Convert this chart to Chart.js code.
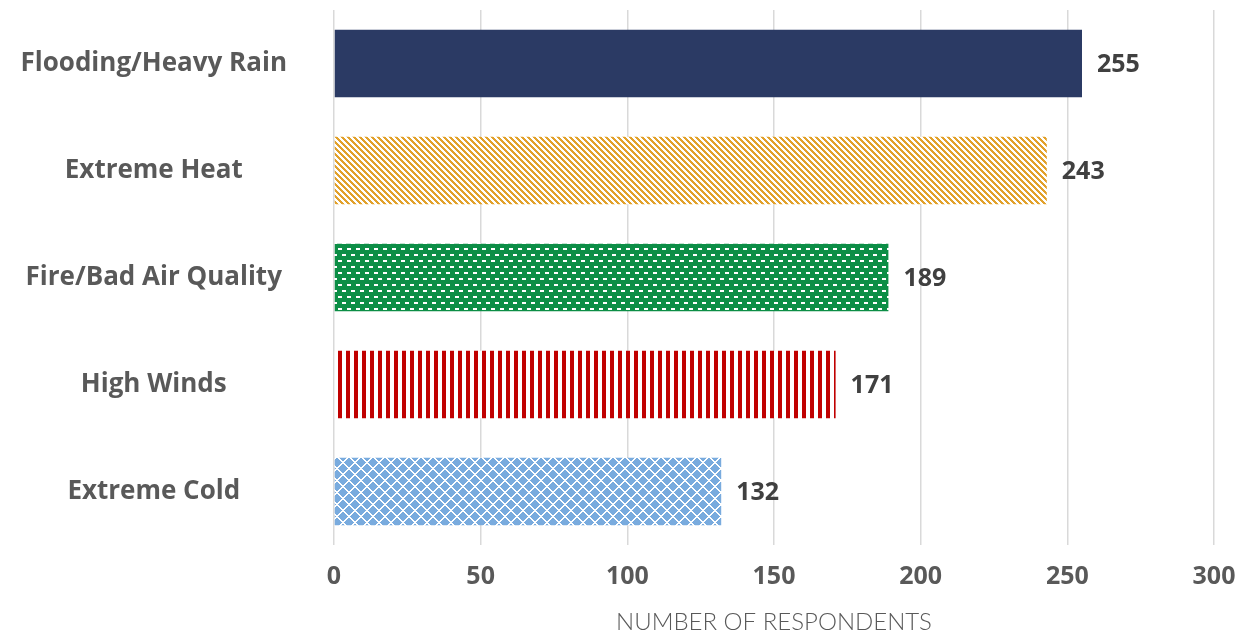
<!DOCTYPE html>
<html>
<head>
<meta charset="utf-8">
<title>Weather hazards</title>
<script src="https://cdn.jsdelivr.net/npm/chart.js@4.4.1/dist/chart.umd.min.js"></script>
<style>
  html, body { margin: 0; padding: 0; background: #fff; }
  #wrap { width: 1246px; height: 633px; position: relative; }
</style>
</head>
<body>
<div id="wrap"><canvas id="chart"></canvas></div>
<script>
var categories = ['Flooding/Heavy Rain', 'Extreme Heat', 'Fire/Bad Air Quality', 'High Winds', 'Extreme Cold'];
var respondents = [255, 243, 189, 171, 132];
var xTicks = [0, 50, 100, 150, 200, 250, 300];
var axisTitle = 'NUMBER OF RESPONDENTS';

(function() {
  'use strict';

  var GREY = '#595959';
  var BOLD = "'Open Sans', Lato, sans-serif";
  var LIGHT = "Lato, 'Open Sans', sans-serif";

  /** Build a small tile canvas and turn it into a repeating pattern. */
  function tile(w, h, draw) {
    var c = document.createElement('canvas');
    c.width = w; c.height = h;
    var ctx = c.getContext('2d');
    ctx.fillStyle = '#fff';
    ctx.fillRect(0, 0, w, h);
    draw(ctx);
    return ctx.createPattern(c, 'repeat');
  }

  function mod(a, n) { return ((a % n) + n) % n; }

  // wide downward diagonal, orange on white
  var heat = tile(6, 6, function(ctx) {
    ctx.fillStyle = '#E2A12B';
    for (var y = 0; y < 6; y++) {
      for (var x = 0; x < 6; x++) {
        if (mod(x - y, 6) < 3) ctx.fillRect(x, y, 1, 1);
      }
    }
  });

  // green with white brick dashes
  var fire = tile(9, 12, function(ctx) {
    ctx.fillStyle = '#0C8E46';
    ctx.fillRect(0, 0, 9, 12);
    ctx.fillStyle = '#fff';
    ctx.fillRect(0, 2, 4, 2);
    ctx.fillRect(5, 8, 4, 2);
  });

  // vertical red stripes
  var winds = tile(8, 8, function(ctx) {
    ctx.fillStyle = '#C00000';
    ctx.fillRect(2, 0, 4, 8);
  });

  // light blue diamond lattice
  var cold = tile(12, 12, function(ctx) {
    ctx.fillStyle = '#79ABDE';
    ctx.fillRect(0, 0, 12, 12);
    ctx.fillStyle = '#fff';
    for (var y = 0; y < 12; y++) {
      for (var x = 0; x < 12; x++) {
        if (mod(x + y, 12) < 2 || mod(x - y, 12) < 2) ctx.fillRect(x, y, 1, 1);
      }
    }
  });

  var fills = ['#2B3A64', heat, fire, winds, cold];

  var valueLabels = {
    id: 'valueLabels',
    afterDatasetsDraw: function(chart) {
      var ctx = chart.ctx;
      var meta = chart.getDatasetMeta(0);
      ctx.save();
      ctx.font = 'bold 25px ' + BOLD;
      ctx.fillStyle = '#404040';
      ctx.textAlign = 'left';
      ctx.textBaseline = 'middle';
      meta.data.forEach(function(bar, i) {
        ctx.fillText(String(respondents[i]), bar.x + 15, bar.y + 1);
      });
      ctx.restore();
    }
  };

  new Chart(document.getElementById('chart'), {
    type: 'bar',
    plugins: [valueLabels],
    data: {
      labels: categories,
      datasets: [{
        data: respondents,
        backgroundColor: fills,
        borderWidth: 0,
        categoryPercentage: 1,
        barPercentage: 0.63
      }]
    },
    options: {
      indexAxis: 'y',
      responsive: true,
      maintainAspectRatio: false,
      animation: false,
      layout: { padding: { top: 10, right: 32, bottom: 0, left: 0 } },
      plugins: {
        legend: { display: false },
        tooltip: { enabled: false }
      },
      scales: {
        x: {
          min: 0,
          max: 300,
          afterBuildTicks: function(scale) {
            scale.ticks = xTicks.map(function(v) { return { value: v }; });
          },
          // fixed band under the plot; edge labels must not squeeze the plot
          afterFit: function(scale) {
            scale.height = 88;
            scale.paddingLeft = 0;
            scale.paddingRight = 0;
          },
          border: { display: false },
          grid: { color: '#D9D9D9', lineWidth: 1.5, drawTicks: false },
          ticks: {
            color: GREY,
            padding: 17,
            font: { family: BOLD, size: 25, weight: 'bold' }
          },
          title: {
            display: true,
            text: axisTitle,
            color: GREY,
            padding: { top: 10, bottom: -4 },
            font: { family: LIGHT, size: 24, weight: '300' }
          }
        },
        y: {
          afterFit: function(scale) {
            scale.width = 334;
            scale.paddingTop = 0;
            scale.paddingBottom = 0;
          },
          border: { display: false },
          grid: { display: false, drawTicks: false },
          ticks: {
            color: GREY,
            crossAlign: 'center',
            padding: 47,
            font: { family: BOLD, size: 26, weight: 'bold' }
          }
        }
      }
    }
  });
})();
</script>
</body>
</html>
